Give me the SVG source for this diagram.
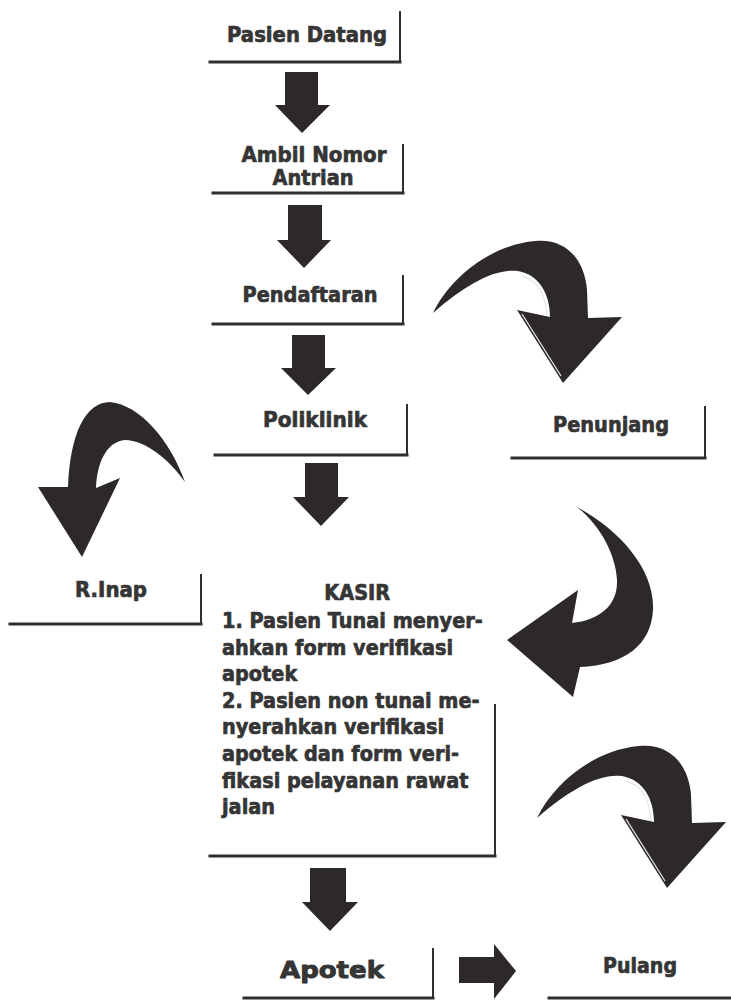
<svg xmlns="http://www.w3.org/2000/svg" width="731" height="1001" viewBox="0 0 731 1001">
<style>
.lbl{font-family:"DejaVu Sans","Liberation Sans",sans-serif;font-weight:bold;font-size:21px;fill:#353535;stroke:#353535;stroke-width:0.7;stroke-linejoin:round}
.mid{text-anchor:middle}
.ln{stroke:#2f2f2f;fill:none;stroke-linecap:square}
.b{stroke-width:3}
.v{stroke-width:2}
.arr{fill:#2c282b}
.hl{fill:none;stroke:#e6e6e6;stroke-width:1.3}
</style>
<defs>
<path id="curveR" d="M433,313 C450,278 490,245 535,241 C568,238 585,262 587,290 L588,318 L622,317 L563,383 L517,310 L550,317 C550,295 540,275 518,271 C495,268 465,285 433,313 Z"/>
<path id="curveRhl" d="M522,276 C538,280 546,296 547,316 M522,314 L561,376"/>
</defs>
<rect width="731" height="1001" fill="#ffffff"/>
<g id="connectors">
<path class="arr" d="M285,72 H318 V105 H330 L302,133 L275,105 H285 Z"/>
<path class="arr" d="M288,205 H322 V240 H331 L304,268 L277,240 H288 Z"/>
<path class="arr" d="M292,335 H325 V368 H336 L308,395 L281,368 H292 Z"/>
<path class="arr" d="M305,463 H338 V497 H349 L321,526 L293,497 H305 Z"/>
<path class="arr" d="M310,868 H346 V902 H358 L330,931 L302,902 H310 Z"/>
<path class="arr" d="M459,957 H494 V944 L516,971 L494,999 V983 H459 Z"/>
<use class="arr" href="#curveR"/>
<use class="hl" href="#curveRhl"/>
<use class="arr" href="#curveR" transform="translate(104,505)"/>
<use class="hl" href="#curveRhl" transform="translate(104,505)"/>
<path class="arr" d="M185,482 C170,440 140,405 110,402 C85,402 70,435 68,487 L38,487 L82,557 L120,478 L96,488 C97,465 105,442 125,440 C145,440 170,460 185,482 Z"/>
<path class="arr" d="M577,507 C620,530 655,570 653,610 C651,645 625,665 580,667 L573,697 L507,640 L578,590 L572,623 C600,620 618,605 617,580 C616,555 600,525 577,507 Z"/>
</g>
<g id="node-pasien-datang">
<path class="ln v" d="M400,12 V62"/><path class="ln b" d="M210,62 H400"/>
<text class="lbl mid" x="307" y="42" textLength="160" lengthAdjust="spacingAndGlyphs">Pasien Datang</text>
</g>
<g id="node-ambil-nomor">
<path class="ln v" d="M403,145 V193"/><path class="ln b" d="M213,193 H403"/>
<text class="lbl mid" x="314" y="162" textLength="145" lengthAdjust="spacingAndGlyphs">Ambil Nomor</text>
<text class="lbl mid" x="313" y="185" textLength="81" lengthAdjust="spacingAndGlyphs">Antrian</text>
</g>
<g id="node-pendaftaran">
<path class="ln v" d="M403,276 V324"/><path class="ln b" d="M213,324 H403"/>
<text class="lbl mid" x="310" y="302" textLength="135" lengthAdjust="spacingAndGlyphs">Pendaftaran</text>
</g>
<g id="node-poliklinik">
<path class="ln v" d="M407,405 V455"/><path class="ln b" d="M215,455 H407"/>
<text class="lbl mid" x="315" y="427" textLength="104" lengthAdjust="spacingAndGlyphs">Poliklinik</text>
</g>
<g id="node-penunjang">
<path class="ln v" d="M705,407 V458"/><path class="ln b" d="M512,458 H705"/>
<text class="lbl mid" x="611" y="432" textLength="116" lengthAdjust="spacingAndGlyphs">Penunjang</text>
</g>
<g id="node-rinap">
<path class="ln v" d="M201,575 V624"/><path class="ln b" d="M10,624 H201"/>
<text class="lbl mid" x="111" y="597" textLength="72" lengthAdjust="spacingAndGlyphs">R.Inap</text>
</g>
<g id="node-kasir">
<path class="ln v" d="M495,705 V856"/><path class="ln b" d="M210,856 H495"/>
<g transform="translate(222,0) scale(0.92,1)">
<text class="lbl mid" x="147" y="600">KASIR</text>
<text class="lbl" x="0" y="628">1. Pasien Tunai menyer-</text>
<text class="lbl" x="0" y="654.6">ahkan form verifikasi</text>
<text class="lbl" x="0" y="681.2">apotek</text>
<text class="lbl" x="0" y="707.8">2. Pasien non tunai me-</text>
<text class="lbl" x="0" y="734.4">nyerahkan verifikasi</text>
<text class="lbl" x="0" y="761">apotek dan form veri-</text>
<text class="lbl" x="0" y="787.6">fikasi pelayanan rawat</text>
<text class="lbl" x="0" y="814.2">jalan</text>
</g>
</g>
<g id="node-apotek">
<path class="ln v" d="M433,949 V998"/><path class="ln b" d="M244,998 H433"/>
<text class="lbl mid" x="332" y="978" style="font-size:23px;stroke-width:0.9" textLength="104" lengthAdjust="spacingAndGlyphs">Apotek</text>
</g>
<g id="node-pulang">
<path class="ln b" d="M549,998 H731"/>
<text class="lbl mid" x="640" y="973" textLength="74" lengthAdjust="spacingAndGlyphs">Pulang</text>
</g>
</svg>
